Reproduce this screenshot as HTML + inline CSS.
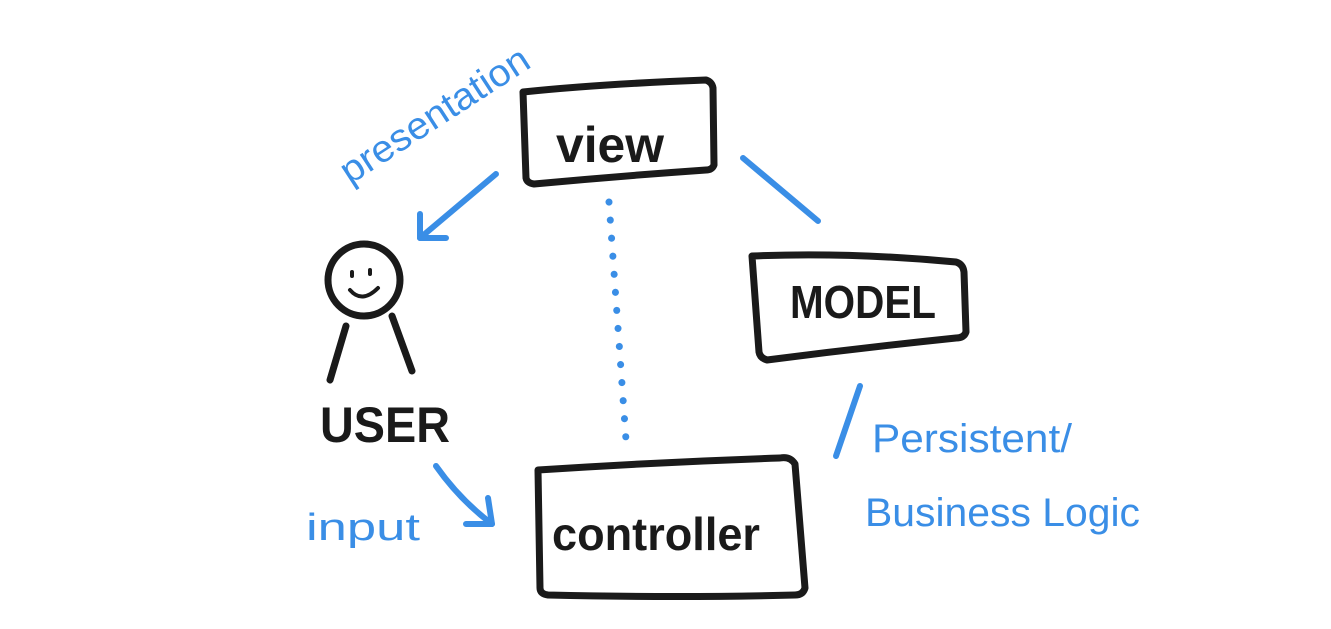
<!DOCTYPE html>
<html><head><meta charset="utf-8"><style>
html,body{margin:0;padding:0;background:#fff;}
svg{display:block}
text{font-family:"Liberation Sans",sans-serif;}
</style></head><body>
<svg width="1331" height="629" viewBox="0 0 1331 629" xmlns="http://www.w3.org/2000/svg">
<g fill="none" stroke="#1a1a1a" stroke-width="7" stroke-linecap="round" stroke-linejoin="round">
  <path d="M523 92 Q600 84 706 80 Q712 82 713 88 L714 165 Q712 170 706 170 Q620 176 534 184 Q527 183 526 178 Z"/>
  <path d="M752 256 Q850 252 956 262 Q963 264 964 272 L966 332 Q964 338 956 338 Q860 348 767 360 Q760 358 759 352 Z"/>
  <path d="M538 470 Q660 462 780 458 Q790 456 795 464 L805 588 Q803 595 795 595 Q680 598 548 595 Q540 594 540 588 Z"/>
  <circle cx="364" cy="280" r="36"/>
  <path d="M346 326 L330 380 M392 316 L412 371"/>
  <path d="M352 272 L352 276 M370 270 L370 274 M350 290 Q362 304 378 288" stroke-width="4"/>
</g>
<g fill="#1a1a1a" font-weight="bold">
  <text x="556" y="162" font-size="50" textLength="108" lengthAdjust="spacingAndGlyphs">view</text>
  <text x="790" y="318" font-size="46" textLength="146" lengthAdjust="spacingAndGlyphs">MODEL</text>
  <text x="320" y="442" font-size="50" textLength="130" lengthAdjust="spacingAndGlyphs">USER</text>
  <text x="552" y="550" font-size="46" textLength="208" lengthAdjust="spacingAndGlyphs">controller</text>
</g>
<g fill="none" stroke="#3a8ee6" stroke-width="6" stroke-linecap="round" stroke-linejoin="round">
  <path d="M496 174 L420 238"/>
  <path d="M420 214 L420 238 L446 238"/>
  <path d="M743 158 L818 221"/>
  <path d="M860 386 L836 456"/>
  <path d="M436 466 Q460 500 492 524"/>
  <path d="M488 498 L492 524 L466 524"/>
  <path d="M609 202 L626 440" stroke-dasharray="0.1 18" stroke-width="7"/>
</g>
<g fill="#3a8ee6">
  <text x="0" y="0" font-size="38" transform="translate(350 185) rotate(-33)" textLength="218" lengthAdjust="spacingAndGlyphs">presentation</text>
  <text x="872" y="452" font-size="40" textLength="200" lengthAdjust="spacingAndGlyphs">Persistent/</text>
  <text x="865" y="526" font-size="40" textLength="275" lengthAdjust="spacingAndGlyphs">Business Logic</text>
  <text x="306" y="540" font-size="38" textLength="114" lengthAdjust="spacingAndGlyphs">input</text>
</g>
</svg>
</body></html>
